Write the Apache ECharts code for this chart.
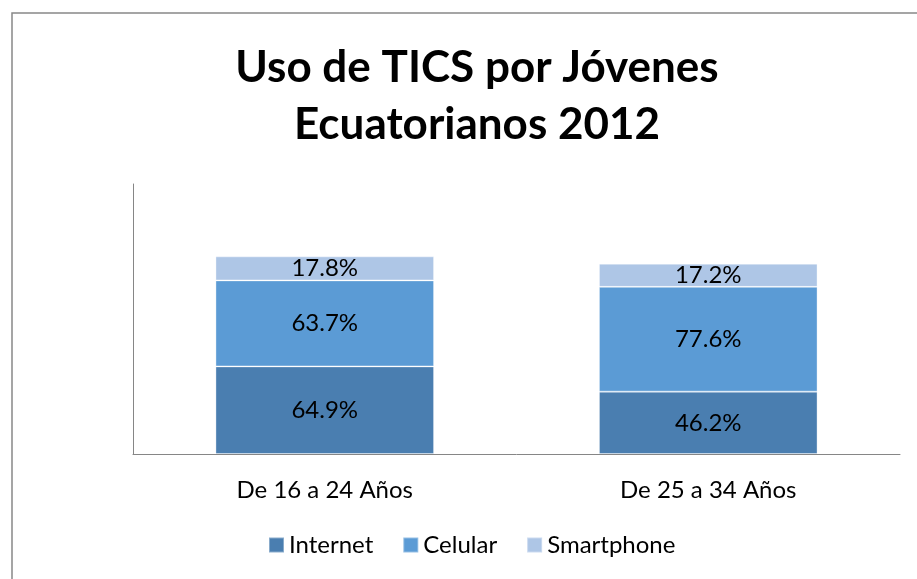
<!DOCTYPE html>
<html>
<head>
    <meta charset="UTF-8">
    <script src="https://cdn.jsdelivr.net/npm/echarts@6/dist/echarts.min.js"></script>
    <title>Uso de TICS</title>
    <style>
        html, body { margin: 0; padding: 0; background: #fff; }
        #box { width: 917px; height: 579px; }
    </style>
</head>
<body>
    <div id="box"></div>
    <script>
        // datos
        var categorias = ['De 16 a 24 Años', 'De 25 a 34 Años']
        var internet = [64.9, 46.2]
        var celular = [63.7, 77.6]
        var smartphone = [17.8, 17.2]

        var fuente = 'Lato'
        var chart = echarts.init(document.getElementById('box'))

        function serie(nombre, datos, color) {
            return {
                name: nombre,
                type: 'bar',
                stack: 'total',
                barCategoryGap: '43%',
                data: datos,
                itemStyle: {
                    color: color,
                    borderColor: 'rgba(255,255,255,0.35)',
                    borderWidth: 1
                },
                label: {
                    show: true,
                    position: 'inside',
                    color: '#000',
                    fontFamily: fuente,
                    fontSize: 24,
                    formatter: function (p) { return p.value.toFixed(1) + '%' }
                }
            }
        }

        var option = {
            animation: false,
            /* marco */
            graphic: [{
                type: 'rect',
                shape: { x: 12, y: 13, width: 1000, height: 1000 },
                style: { fill: 'none', stroke: '#888', lineWidth: 1.5 },
                silent: true
            }],
            title: {
                text: 'Uso de TICS por Jóvenes\nEcuatorianos 2012',
                left: 472,
                top: 34,
                textAlign: 'center',
                textStyle: {
                    fontFamily: fuente,
                    fontWeight: 'bold',
                    fontSize: 44,
                    lineHeight: 57,
                    color: '#000'
                }
            },
            legend: {
                left: 268,
                top: 533,
                padding: 0,
                itemWidth: 15,
                itemHeight: 15,
                itemGap: 29,
                icon: 'rect',
                textStyle: { fontFamily: fuente, fontSize: 24, color: '#000' },
                data: ['Internet', 'Celular', 'Smartphone']
            },
            grid: { left: 133, right: 17, top: 184, bottom: 125, containLabel: false },
            xAxis: {
                type: 'category',
                data: categorias,
                axisLine: { lineStyle: { color: '#868686', width: 1 } },
                axisTick: { show: false },
                axisLabel: { color: '#000', fontFamily: fuente, fontSize: 24, margin: 24 }
            },
            yAxis: {
                type: 'value',
                min: 0,
                max: 200,
                axisLine: { show: true, lineStyle: { color: '#868686', width: 1 } },
                axisTick: { show: false },
                axisLabel: { show: false },
                splitLine: { show: false }
            },
            series: [
                serie('Internet', internet, '#4A7EB0'),
                serie('Celular', celular, '#5B9BD5'),
                serie('Smartphone', smartphone, '#AEC6E6')
            ]
        }

        chart.setOption(option)
    </script>
</body>
</html>
